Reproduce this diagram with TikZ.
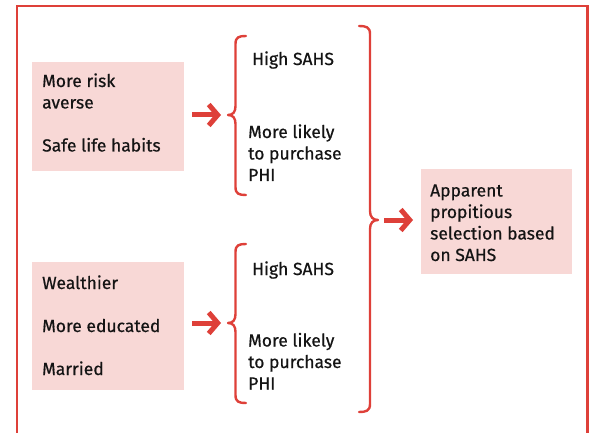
\documentclass[tikz,border=0pt]{standalone}
\usepackage{fontspec}
\setmainfont{Fira Sans}[FakeBold=0.6]
\usetikzlibrary{arrows.meta,calc}
\definecolor{frame}{HTML}{DE4039}
\definecolor{boxfill}{HTML}{F8D8D6}
\definecolor{ink}{HTML}{141414}
% lines of a label, baseline of the node at the first line
\newcommand{\lines}[1]{\begin{tabular}[t]{@{}l@{}}#1\end{tabular}}
\tikzset{
  pinkbox/.style={fill=boxfill, draw=none, inner sep=0pt, anchor=north west},
  txt/.style={anchor=base west, inner sep=0pt, text=ink,
              font=\fontsize{17.5}{21.5}\selectfont},
  bracepath/.style={draw=frame, line width=2.4pt, line cap=round, line join=round},
  fatarrow/.style={draw=frame, line width=5pt,
                   -{Straight Barb[length=9pt,width=21pt,line width=5pt]}},
}
\begin{document}
\begin{tikzpicture}[x=1pt,y=-1pt]
\useasboundingbox (0,0) rectangle (592,433);

% outer frame, open at the bottom
\draw[frame, line width=2.6pt] (17,433) -- (17,6) -- (587.5,6) -- (587.5,433);

% input boxes
\node[pinkbox, minimum width=152pt, minimum height=109pt] (b1) at (32,62) {};
\node[pinkbox, minimum width=152pt, minimum height=128pt] (b2) at (32,262) {};
\node[pinkbox, minimum width=151pt, minimum height=105pt] (b3) at (421,169) {};

\node[txt] (t1a) at (42,87) {\lines{More risk\\averse\\[21.5pt]Safe life habits}};
\node[txt] (t2a) at (42,289) {\lines{Wealthier\\[21.5pt]More educated\\[21.5pt]Married}};
\node[txt] (t3a) at (430,196.5) {\lines{Apparent\\propitious\\selection based\\on SAHS}};

% outcome labels
\node[txt] (h1) at (252,65) {High SAHS};
\node[txt] (p1) at (248,138) {\lines{More likely\\to purchase\\PHI}};
\node[txt] (h2) at (252,275) {High SAHS};
\node[txt] (p2) at (248,346.5) {\lines{More likely\\to purchase\\PHI}};

% brace tips
\coordinate (tip1) at (228,115);
\coordinate (tip2) at (228,323);
\coordinate (tip3) at (378,220);

% left braces
\draw[bracepath] (246,36) .. controls (239,36) and (235.5,37) .. (235.5,44)
  -- (235.5,106) .. controls (235.5,112) and (233,115) .. (tip1)
  .. controls (233,115) and (235.5,118) .. (235.5,124)
  -- (235.5,187) .. controls (235.5,194) and (239,195) .. (246,195);
\draw[bracepath] (246,244) .. controls (239,244) and (235.5,245) .. (235.5,252)
  -- (235.5,314) .. controls (235.5,320) and (233,323) .. (tip2)
  .. controls (233,323) and (235.5,326) .. (235.5,332)
  -- (235.5,395) .. controls (235.5,402) and (239,403) .. (246,403);

% right brace
\draw[bracepath] (359,26) .. controls (366,26) and (370,27) .. (370,34)
  -- (370,211) .. controls (370,217) and (373,220) .. (tip3)
  .. controls (373,220) and (370,223) .. (370,229)
  -- (370,404) .. controls (370,411) and (366,412) .. (359,412);

% arrows
\draw[fatarrow] ($(b1.east |- tip1)+(8,0)$) -- ($(tip1)+(-7,0)$);
\draw[fatarrow] ($(b2.east |- tip2)+(8,0)$) -- ($(tip2)+(-7,0)$);
\draw[fatarrow] ($(tip3)+(6,0)$) -- ($(b3.west |- tip3)+(-8,0)$);
\end{tikzpicture}
\end{document}
